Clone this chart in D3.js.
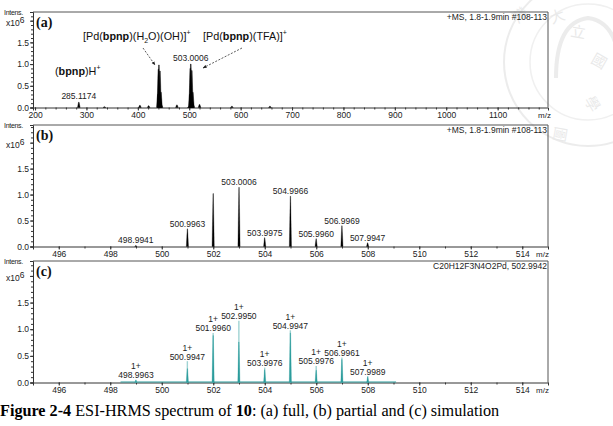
<!DOCTYPE html>
<html><head><meta charset="utf-8">
<script src="https://cdn.jsdelivr.net/npm/d3@7"></script>
<style>body{margin:0;background:#fff}svg{display:block}</style>
</head><body>
<svg id="chart" width="613" height="426"></svg>
<script>
// ---------- data ----------
const fullTickLabels = [200,300,400,500,600,700,800,900,1000,1100];
const fullMz  = [285.12,335,404,421,439,440,441,442,443,444,445,446,476,499,501,502,503,504,505,506,507,508,520,583,657];
const fullInt = [0.12,0.02,0.05,0.04,0.30,0.88,0.98,0.15,0.84,0.13,0.35,0.06,0.06,0.02,0.30,0.90,1.00,0.15,0.85,0.13,0.35,0.06,0.07,0.03,0.03];
const fullLabelMz = [285.1174, 503.0006];
const fullLabelInt = [0.12, 1.00];

const zoomTickLabels = [496,498,500,502,504,506,508,510,512,514];
const partMz  = [498.9941,500.9963,501.9970,503.0006,503.9975,504.9966,505.9960,506.9969,507.9947];
const partInt = [0.02,0.34,1.02,1.14,0.17,0.97,0.15,0.40,0.07];
const partLabels = ["498.9941","500.9963","","503.0006","503.9975","504.9966","505.9960","506.9969","507.9947"];

const simMz   = [498.9963,500.9947,501.9960,502.9950,503.9976,504.9947,505.9976,506.9961,507.9989];
const simInt  = [0.05,0.40,0.93,1.16,0.28,0.98,0.31,0.47,0.12];
const simProf = [0.04,0.26,0.88,0.76,0.24,0.93,0.23,0.43,0.10];
const simCharge = ["1+","1+","1+","1+","1+","1+","1+","1+","1+"];

const yTickLabels = [0.0,0.5,1.0,1.5];

// ---------- layout ----------
const svg = d3.select("#chart");
const L = 33, R = 548;
const font = "'Liberation Sans', Arial, sans-serif";
const axisCol = "#333";
const teal = "#2b9c9c";

// watermark seal (faint)
const wm = svg.append("g").attr("opacity",0.45);
wm.append("circle").attr("cx",588).attr("cy",62).attr("r",84).attr("fill","none").attr("stroke","#d6d6d6").attr("stroke-width",2);
wm.append("circle").attr("cx",588).attr("cy",62).attr("r",58).attr("fill","none").attr("stroke","#dedede").attr("stroke-width",1.5);
wm.append("path").attr("d","M556,78 Q556,22 588,18 Q620,22 620,78").attr("fill","none").attr("stroke","#d6d6d6").attr("stroke-width",4);
[["灣",518,24,-40],["立",570,36,10],["國",590,62,30],["學",584,100,60],["大",552,24,-20],["圖",556,126,100]].forEach(c=>{
  wm.append("text").attr("transform",`translate(${c[1]},${c[2]}) rotate(${c[3]})`).attr("font-family","'Noto Sans CJK TC'").attr("font-size",15).attr("fill","#cfcfcf").text(c[0]);
});

function panel(o){
  const g = svg.append("g");
  const x = d3.scaleLinear().domain(o.xdom).range([L,R]);
  const y = d3.scaleLinear().domain([0,o.ymax]).range([o.bottom,o.top]);
  g.append("line").attr("x1",L).attr("x2",R).attr("y1",o.top).attr("y2",o.top).attr("stroke","#555").attr("stroke-width",1);
  g.append("line").attr("x1",R).attr("x2",R).attr("y1",o.top).attr("y2",o.bottom).attr("stroke","#555").attr("stroke-width",1);
  g.append("g").attr("transform",`translate(0,${o.bottom})`)
    .call(d3.axisBottom(x).tickValues(o.xticks).tickSize(3).tickPadding(1).tickFormat(d3.format("d")));
  g.append("g").attr("transform",`translate(0,${o.bottom})`)
    .call(d3.axisBottom(x).tickValues(o.xminor).tickSize(2).tickFormat(""))
    .select(".domain").remove();
  g.append("g").attr("transform",`translate(${L},0)`)
    .call(d3.axisLeft(y).tickValues(yTickLabels.concat([2.0])).tickSize(3).tickPadding(1)
      .tickFormat(d=> d===2 ? "" : d3.format(".1f")(d)));
  g.append("g").attr("transform",`translate(${L},0)`)
    .call(d3.axisLeft(y).tickValues(d3.range(0,o.ymax,0.1)).tickSize(2).tickFormat(""))
    .select(".domain").remove();
  g.selectAll(".domain").attr("stroke",axisCol);
  g.selectAll(".tick line").attr("stroke",axisCol);
  g.selectAll(".tick text").attr("font-family",font).attr("font-size",8.5).attr("fill","#222");
  g.append("text").attr("x",4).attr("y",o.top+3).attr("font-family",font).attr("font-size",7).attr("fill","#222").attr("letter-spacing",-0.3).text("Intens.");
  const t = g.append("text").attr("x",6).attr("y",y(2.0)+5).attr("font-family",font).attr("font-size",8.5).attr("fill","#222");
  t.append("tspan").text("x10");
  t.append("tspan").attr("dy",-2.5).attr("font-size",8.5).text("6");
  g.append("text").attr("x",o.mzX).attr("y",o.bottom+10).attr("font-family",font).attr("font-size",8).attr("fill","#222").text("m/z");
  g.append("text").attr("x",36).attr("y",o.top+15).attr("font-family","'Liberation Serif','Times New Roman',serif")
    .attr("font-weight","bold").attr("font-size",14).attr("fill","#111").text(o.letter);
  g.append("text").attr("x",R-1).attr("y",o.top+8).attr("text-anchor","end").attr("font-family",font)
    .attr("font-size",8.5).attr("fill","#222").text(o.header);
  return {g,x,y};
}

// ---------- panel (a) ----------
const A = panel({xdom:[196,1198], xticks:fullTickLabels, xminor:d3.range(200,1200,20), top:12, bottom:107.5, ymax:2.2,
  mzX:538, letter:"(a)", header:"+MS, 1.8-1.9min #108-113"});
A.g.append("g").selectAll("path").data(fullMz.map((m,i)=>[m,fullInt[i]])).join("path")
  .attr("d",d=>{const px=A.x(d[0]),b=A.y(0),t=A.y(d[1]);return `M${px-1.3},${b}L${px-0.3},${t}L${px+0.3},${t}L${px+1.3},${b}Z`;})
  .attr("fill","#000").attr("stroke","#000").attr("stroke-width",0.4);
A.g.selectAll(".plab").data(fullLabelMz.map((m,i)=>[m,fullLabelInt[i]])).join("text")
  .attr("x",d=>A.x(d[0])).attr("y",d=>A.y(d[1])-3).attr("text-anchor","middle")
  .attr("font-family",font).attr("font-size",8.5).attr("fill","#222").text(d=>d[0].toFixed(4));
const ann = A.g.append("g").attr("font-family",font).attr("font-size",10.8).attr("fill","#111");
const a1 = ann.append("text").attr("x",83).attr("y",40);
a1.append("tspan").text("[Pd(");
a1.append("tspan").attr("font-weight","bold").text("bpnp");
a1.append("tspan").text(")(H");
a1.append("tspan").attr("font-size",7).attr("dy",3).text("2");
a1.append("tspan").attr("dy",-3).text("O)(OH)]");
a1.append("tspan").attr("font-size",7).attr("dy",-5).text("+");
const a2 = ann.append("text").attr("x",203).attr("y",40);
a2.append("tspan").text("[Pd(");
a2.append("tspan").attr("font-weight","bold").text("bpnp");
a2.append("tspan").text(")(TFA)]");
a2.append("tspan").attr("font-size",7).attr("dy",-5).text("+");
const a3 = ann.append("text").attr("x",55).attr("y",75);
a3.append("tspan").text("(");
a3.append("tspan").attr("font-weight","bold").text("bpnp");
a3.append("tspan").text(")H");
a3.append("tspan").attr("font-size",7).attr("dy",-5).text("+");
const defs = svg.append("defs");
defs.append("marker").attr("id","ah").attr("viewBox","0 0 10 10").attr("refX",9).attr("refY",5)
  .attr("markerWidth",5).attr("markerHeight",5).attr("orient","auto")
  .append("path").attr("d","M0,1L10,5L0,9Z").attr("fill","#222");
A.g.append("line").attr("x1",143).attr("y1",48).attr("x2",155).attr("y2",65).attr("stroke","#333").attr("stroke-width",0.8)
  .attr("stroke-dasharray","2,1.5").attr("marker-end","url(#ah)");
A.g.append("line").attr("x1",242).attr("y1",48).attr("x2",203).attr("y2",68).attr("stroke","#333").attr("stroke-width",0.8)
  .attr("stroke-dasharray","2,1.5").attr("marker-end","url(#ah)");

// ---------- panel (b) ----------
const B = panel({xdom:[495,515], xticks:zoomTickLabels, xminor:d3.range(495,516,1), top:125, bottom:246.5, ymax:2.34,
  mzX:536, letter:"(b)", header:"+MS, 1.8-1.9min #108-113"});
B.g.append("g").selectAll("path").data(partMz.map((m,i)=>[m,partInt[i]])).join("path")
  .attr("d",d=>{const px=B.x(d[0]),b=B.y(0),t=B.y(d[1]);return `M${px-1.1},${b}L${px-0.2},${t}L${px+0.2},${t}L${px+1.1},${b}Z`;})
  .attr("fill","#000").attr("stroke","#000").attr("stroke-width",0.3);
B.g.selectAll(".plab").data(partMz.map((m,i)=>[m,partInt[i],partLabels[i]])).join("text")
  .attr("x",d=>B.x(d[0])).attr("y",d=>B.y(d[1])-2).attr("text-anchor","middle")
  .attr("font-family",font).attr("font-size",8.5).attr("fill","#222").text(d=>d[2]);

// ---------- panel (c) ----------
const C = panel({xdom:[495,515], xticks:zoomTickLabels, xminor:d3.range(495,516,1), top:261, bottom:382.5, ymax:2.28,
  mzX:536, letter:"(c)", header:"C20H12F3N4O2Pd, 502.9942"});
C.g.append("line").attr("x1",C.x(498.4)).attr("x2",C.x(509.1)).attr("y1",C.y(0)-0.5).attr("y2",C.y(0)-0.5)
  .attr("stroke",teal).attr("stroke-width",1.2);
C.g.append("g").selectAll("line").data(simMz.map((m,i)=>[m,simInt[i]])).join("line")
  .attr("x1",d=>C.x(d[0])).attr("x2",d=>C.x(d[0])).attr("y1",C.y(0)).attr("y2",d=>C.y(d[1]))
  .attr("stroke","#9fd3d3").attr("stroke-width",1.4);
C.g.append("g").selectAll("path").data(simMz.map((m,i)=>[m,simProf[i]])).join("path")
  .attr("d",d=>{const px=C.x(d[0]),b=C.y(0),t=C.y(d[1]);return `M${px-1.1},${b}L${px-0.2},${t}L${px+0.2},${t}L${px+1.1},${b}Z`;})
  .attr("fill",teal).attr("stroke",teal).attr("stroke-width",0.3);
C.g.selectAll(".plab").data(simMz.map((m,i)=>[m,simInt[i]])).join("text")
  .attr("x",d=>C.x(d[0])).attr("y",d=>C.y(d[1])-1.5).attr("text-anchor","middle")
  .attr("font-family",font).attr("font-size",8.5).attr("fill","#222").text(d=>d[0].toFixed(4));
C.g.selectAll(".zlab").data(simMz.map((m,i)=>[m,simInt[i],simCharge[i]])).join("text")
  .attr("x",d=>C.x(d[0])).attr("y",d=>C.y(d[1])-10.5).attr("text-anchor","middle")
  .attr("font-family",font).attr("font-size",8.5).attr("fill","#222").text(d=>d[2]);

// ---------- caption ----------
const cap = svg.append("text").attr("x",0).attr("y",416).attr("font-family","'Liberation Serif','Times New Roman',serif")
  .attr("font-size",16.2).attr("fill","#000");
cap.append("tspan").attr("font-weight","bold").text("Figure 2-4");
cap.append("tspan").text(" ESI-HRMS spectrum of ");
cap.append("tspan").attr("font-weight","bold").text("10");
cap.append("tspan").text(": (a) full, (b) partial and (c) simulation");
</script>
</body></html>
